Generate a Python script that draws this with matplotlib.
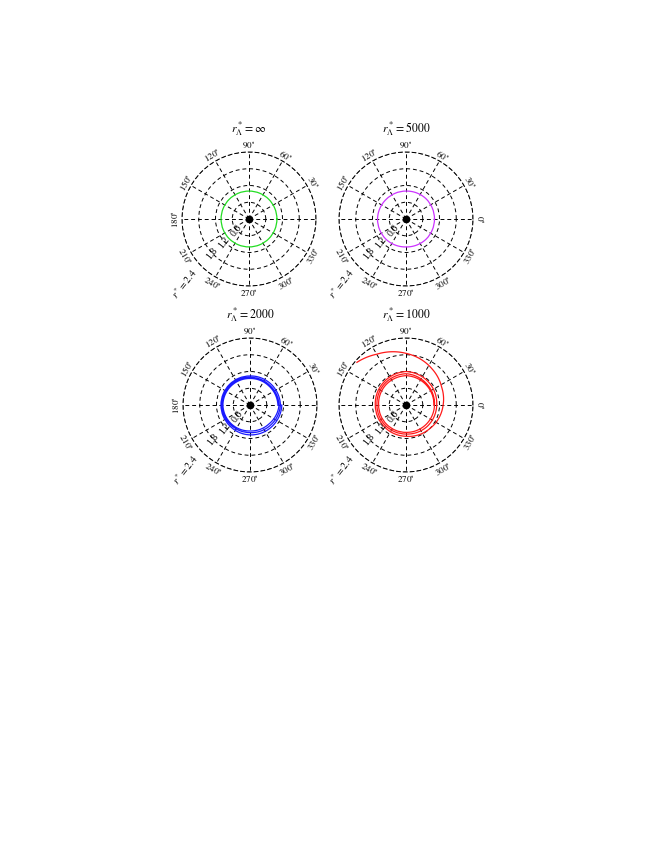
import numpy as np
import matplotlib
matplotlib.use('Agg')
import matplotlib.pyplot as plt

plt.rcParams['font.family'] = ['Liberation Serif', 'DejaVu Serif']
plt.rcParams['mathtext.fontset'] = 'stix'

# --- orbit data (theta in degrees, r in units of r*) ---
titles = [r'$r^*_\Lambda=\infty$', r'$r^*_\Lambda=5000$',
          r'$r^*_\Lambda=2000$', r'$r^*_\Lambda=1000$']
colors = ['#22dd22', '#cc33ff', '#1a1aff', '#ff1a1a']

theta_inf = [0, 45, 90, 135, 180, 225, 270, 315, 360]
r_inf = [1.0, 1.0, 1.0, 1.0, 1.0, 1.0, 1.0, 1.0, 1.0]

theta_5000 = [0, 45, 90, 135, 180, 225, 270, 315, 360]
r_5000 = [1.02, 1.02, 1.0, 1.0, 1.02, 1.02, 1.0, 1.02, 1.02]

theta_2000 = [0, 45, 90, 135, 180, 225, 270, 315, 360, 405, 450, 495,
              540, 585, 630, 675, 720, 765, 810, 855, 900, 945, 990, 1035, 1080]
r_2000 = [1.0, 0.96, 0.95, 0.96, 0.97, 0.95, 0.93, 0.96, 1.04, 1.0, 0.99, 1.0,
          1.0, 0.99, 0.99, 1.03, 1.09, 1.06, 1.04, 1.04, 1.04, 1.04, 1.07, 1.1, 1.14]

theta_1000 = [0, 45, 90, 135, 180, 225, 270, 315, 360, 405, 450, 495, 540,
              585, 630, 675, 720, 765, 810, 855, 900, 945, 990, 1035, 1080,
              1107, 1135, 1170, 1200, 1219]
r_1000 = [1.0, 1.02, 1.05, 1.02, 0.98, 0.98, 0.98, 1.0, 1.02, 1.06, 1.12, 1.08,
          1.04, 1.04, 1.04, 1.08, 1.1, 1.15, 1.2, 1.14, 1.1, 1.1, 1.12, 1.2,
          1.33, 1.43, 1.6, 1.85, 2.1, 2.33]

orbits = [(theta_inf, r_inf), (theta_5000, r_5000),
          (theta_2000, r_2000), (theta_1000, r_1000)]

ring_ticks = [0.6, 1.2, 1.8, 2.4]
ring_labels = ['0.6', '1.2', '1.8', r'$r^*=2.4$']
angle_ticks = list(range(0, 360, 30))

W, H = 654, 846
fig = plt.figure(figsize=(W / 100, H / 100), dpi=100)

centers = [(249, 219), (406, 219), (250, 405), (406, 405)]
R = 67  # pixel radius of outer ring
dash = (0, (4, 3))

for i, (cx, cy) in enumerate(centers):
    ax = fig.add_axes([(cx - R) / W, 1 - (cy + R) / H, 2 * R / W, 2 * R / H],
                      projection='polar')
    ax.set_ylim(0, 2.4)
    ax.set_yticks(ring_ticks)
    ax.set_yticklabels([])
    ax.set_xticks(np.radians(angle_ticks))
    ax.set_xticklabels([])
    ax.grid(True, color='black', linestyle=dash, linewidth=0.7)
    ax.spines['polar'].set_linestyle(dash)
    ax.spines['polar'].set_linewidth(0.7)
    ax.patch.set_alpha(0)

    th, rr = orbits[i]
    line, = ax.plot(np.radians(th), rr, color=colors[i], lw=0.9, zorder=3)
    line.get_path()._interpolation_steps = 40
    ax.plot(0, 0, 'o', color='black', ms=4.5, zorder=4)

    # angle labels
    skip = 0 if i % 2 == 0 else 180
    for d in angle_ticks:
        if d == skip:
            continue
        rot = d - 90 if d <= 180 else d - 270
        ax.text(np.radians(d), 2.64, r'$%d^{\circ}$' % d, fontsize=6.5,
                rotation=rot, ha='center', va='center',
                rotation_mode='anchor', clip_on=False)

    # ring labels
    for rv, lab in zip(ring_ticks[:3], ring_labels[:3]):
        ax.text(np.radians(223), rv + 0.03, lab, fontsize=7, rotation=52,
                ha='center', va='center', rotation_mode='anchor', zorder=5)
    ax.text(np.radians(223), 2.68, ring_labels[3], fontsize=7, rotation=52,
            ha='right', va='center', rotation_mode='anchor', zorder=5,
            clip_on=False)

    ax.text(0.5, 1.175, titles[i], transform=ax.transAxes, fontsize=8.5,
            ha='center', va='center')

fig.savefig('out.png', dpi=100)
